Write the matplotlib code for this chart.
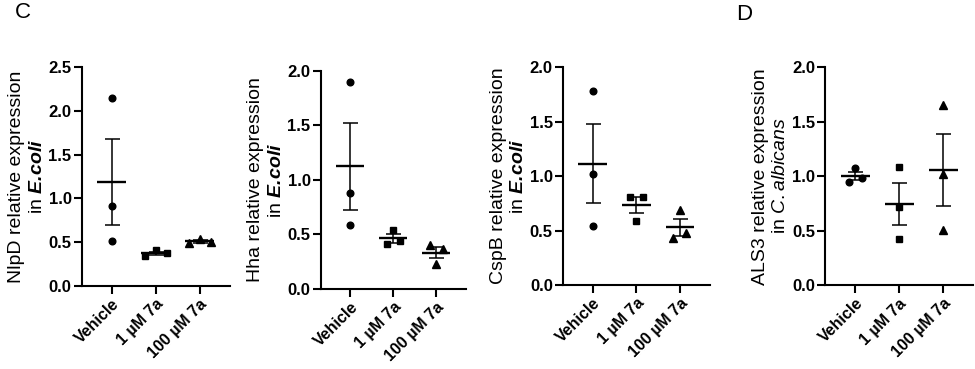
import numpy as np
import matplotlib.pyplot as plt

plt.rcParams['font.family'] = ['Liberation Sans', 'DejaVu Sans']
plt.rcParams['mathtext.fontset'] = 'custom'
plt.rcParams['mathtext.it'] = 'Liberation Sans:italic'
plt.rcParams['mathtext.rm'] = 'Liberation Sans'
plt.rcParams['mathtext.bfit'] = 'Liberation Sans:italic:bold'

groups = ['Vehicle', '1 \u00b5M 7a', '100 \u00b5M 7a']
markers = ['o', 's', '^']

# replicate values, each listed left / middle / right as drawn
nlpd = [[2.15, 0.91, 0.51], [0.345, 0.405, 0.37], [0.485, 0.538, 0.504]]
hha = [[1.90, 0.88, 0.59], [0.41, 0.54, 0.443], [0.40, 0.23, 0.37]]
cspb = [[1.78, 1.02, 0.545], [0.808, 0.59, 0.808], [0.43, 0.686, 0.478]]
als3 = [[0.945, 1.076, 0.988], [1.089, 0.719, 0.425], [1.651, 1.024, 0.508]]

# horizontal spread of the replicate dots per group
spread_nlpd = [0.0, 0.25, 0.25]
spread_hha = [0.0, 0.15, 0.15]
spread_cspb = [0.0, 0.15, 0.15]
spread_als3 = [0.15, 0.0, 0.0]

ecoli = r'in $\mathbfit{E.\!coli}$'
ylabels = ['NlpD relative expression\n' + ecoli,
           'Hha relative expression\n' + ecoli,
           'CspB relative expression\n' + ecoli,
           'ALS3 relative expression\n' + r'in $\mathit{C.albicans}$']
ytops = [2.5, 2.0, 2.0, 2.0]

fig = plt.figure(figsize=(9.75, 3.69), dpi=100)
boxes = [[0.0841, 0.2257, 0.1518, 0.5919],
         [0.3292, 0.2168, 0.1487, 0.5916],
         [0.5777, 0.2276, 0.1505, 0.5900],
         [0.8465, 0.2268, 0.1518, 0.5912]]

panels = [(nlpd, spread_nlpd), (hha, spread_hha), (cspb, spread_cspb), (als3, spread_als3)]

for k, (data, spread) in enumerate(panels):
    ax = fig.add_axes(boxes[k])
    for i, vals in enumerate(data):
        vals = np.array(vals)
        xs = i + np.array([-1, 0, 1]) * spread[i]
        ax.plot(xs, vals, linestyle='none', marker=markers[i], color='black',
                ms=4.8 if markers[i] != '^' else 5.4, clip_on=False, zorder=3)
        m = vals.mean()
        sem = vals.std(ddof=1) / np.sqrt(len(vals))
        ax.errorbar(i, m, yerr=sem, color='black', lw=1.1, capsize=5.4,
                    capthick=1.1, zorder=4)
        ax.hlines(m, i - 0.33, i + 0.33, color='black', lw=1.7, zorder=4)
    ax.set_xlim(-0.68, 2.69)
    ax.set_ylim(0, ytops[k])
    ax.set_yticks(np.arange(0, ytops[k] + 0.01, 0.5))
    ax.set_yticklabels(['%.1f' % t for t in np.arange(0, ytops[k] + 0.01, 0.5)],
                       fontweight='bold', fontsize=12)
    ax.set_xticks(range(3))
    ax.set_xticklabels(groups, rotation=45, ha='right', rotation_mode='anchor',
                       fontweight='bold', fontsize=11.5)
    for s in ['top', 'right']:
        ax.spines[s].set_visible(False)
    for s in ['left', 'bottom']:
        ax.spines[s].set_linewidth(1.5)
    ax.tick_params(width=1.5, length=5.5, pad=2)
    ax.set_ylabel(ylabels[k], fontsize=14, linespacing=1.25, labelpad=2)

fig.text(0.015, 0.966, 'C', fontsize=16, va='center')
fig.text(0.755, 0.962, 'D', fontsize=16, va='center')

fig.savefig('out.png', dpi=100)
